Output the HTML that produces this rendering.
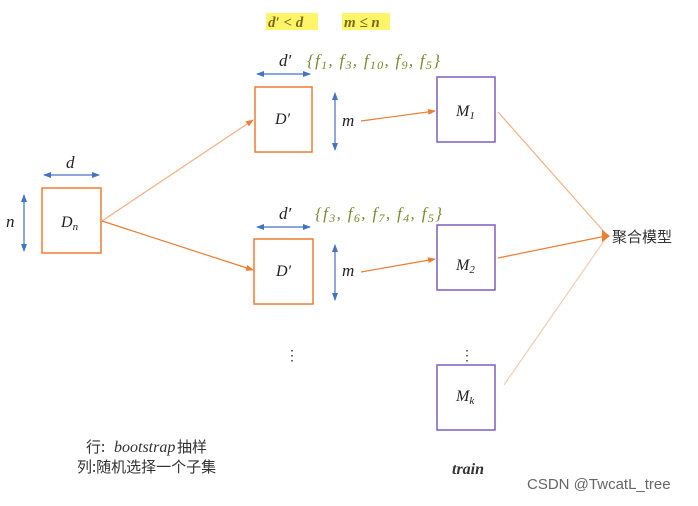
<!DOCTYPE html>
<html><head><meta charset="utf-8"><style>
html,body{margin:0;padding:0;background:#fff;}
svg text{font-family:"Liberation Serif","Noto Serif CJK SC",serif;}
</style></head><body>
<svg width="698" height="501" viewBox="0 0 698 501" xmlns="http://www.w3.org/2000/svg">
<defs>
<marker id="ao" markerWidth="8" markerHeight="8" refX="7" refY="4" orient="auto" markerUnits="userSpaceOnUse"><path d="M0,1 L8,4 L0,7 Z" fill="#ed7d31"/></marker>
<marker id="ab" markerWidth="8" markerHeight="8" refX="7" refY="4" orient="auto-start-reverse" markerUnits="userSpaceOnUse"><path d="M0,1 L8,4 L0,7 Z" fill="#4472c4"/></marker>
</defs>
<rect x="0" y="0" width="698" height="501" fill="#fff"/>
<rect x="266" y="13" width="52" height="17" fill="#fff34d" opacity="0.85"/>
<rect x="342" y="13" width="48" height="17" fill="#fff34d" opacity="0.85"/>
<text x="268" y="27" font-size="15" font-style="italic" font-weight="bold" fill="#7a6a20">d′ &lt; d</text>
<text x="344" y="27" font-size="15" font-style="italic" font-weight="bold" fill="#7a6a20">m ≤ n</text>
<rect x="42" y="188" width="59" height="65" fill="none" stroke="#ed7d31" stroke-width="1.5"/>
<text x="61" y="227" font-size="16" font-style="italic" fill="#222">D<tspan font-size="11" dy="3">n</tspan></text>
<line x1="44" y1="175" x2="99" y2="175" stroke="#4472c4" stroke-width="1.2" marker-start="url(#ab)" marker-end="url(#ab)"/>
<text x="66" y="168" font-size="17" font-style="italic" fill="#222">d</text>
<line x1="24" y1="195" x2="24" y2="251" stroke="#4472c4" stroke-width="1.2" marker-start="url(#ab)" marker-end="url(#ab)"/>
<text x="6" y="227" font-size="17" font-style="italic" fill="#222">n</text>
<line x1="102" y1="221" x2="253" y2="120" stroke="#f4b183" stroke-width="1.2" marker-end="url(#ao)"/>
<line x1="102" y1="221" x2="253" y2="270" stroke="#ed7d31" stroke-width="1.2" marker-end="url(#ao)"/>
<rect x="255" y="87" width="57" height="65" fill="none" stroke="#ed7d31" stroke-width="1.5"/>
<text x="275" y="124" font-size="16" font-style="italic" fill="#222">D′</text>
<line x1="257" y1="74" x2="310" y2="74" stroke="#4472c4" stroke-width="1.2" marker-start="url(#ab)" marker-end="url(#ab)"/>
<text x="279" y="66" font-size="17" font-style="italic" fill="#222">d′</text>
<text x="307" y="66" font-size="17" font-style="italic" fill="#7a8a30" textLength="133" lengthAdjust="spacing">{f<tspan font-size="12" dy="3">1</tspan><tspan dy="-3">, f</tspan><tspan font-size="12" dy="3">3</tspan><tspan dy="-3">, f</tspan><tspan font-size="12" dy="3">10</tspan><tspan dy="-3">, f</tspan><tspan font-size="12" dy="3">9</tspan><tspan dy="-3">, f</tspan><tspan font-size="12" dy="3">5</tspan><tspan dy="-3">}</tspan></text>
<line x1="335" y1="93" x2="335" y2="150" stroke="#4472c4" stroke-width="1.2" marker-start="url(#ab)" marker-end="url(#ab)"/>
<text x="342" y="126" font-size="17" font-style="italic" fill="#222">m</text>
<line x1="361" y1="121" x2="435" y2="111" stroke="#ed7d31" stroke-width="1.2" marker-end="url(#ao)"/>
<rect x="254" y="239" width="59" height="65" fill="none" stroke="#ed7d31" stroke-width="1.5"/>
<text x="276" y="276" font-size="16" font-style="italic" fill="#222">D′</text>
<line x1="257" y1="227" x2="310" y2="227" stroke="#4472c4" stroke-width="1.2" marker-start="url(#ab)" marker-end="url(#ab)"/>
<text x="279" y="219" font-size="17" font-style="italic" fill="#222">d′</text>
<text x="315" y="219" font-size="17" font-style="italic" fill="#7a8a30" textLength="127" lengthAdjust="spacing">{f<tspan font-size="12" dy="3">3</tspan><tspan dy="-3">, f</tspan><tspan font-size="12" dy="3">6</tspan><tspan dy="-3">, f</tspan><tspan font-size="12" dy="3">7</tspan><tspan dy="-3">, f</tspan><tspan font-size="12" dy="3">4</tspan><tspan dy="-3">, f</tspan><tspan font-size="12" dy="3">5</tspan><tspan dy="-3">}</tspan></text>
<line x1="335" y1="245" x2="335" y2="300" stroke="#4472c4" stroke-width="1.2" marker-start="url(#ab)" marker-end="url(#ab)"/>
<text x="342" y="276" font-size="17" font-style="italic" fill="#222">m</text>
<line x1="361" y1="272" x2="435" y2="259" stroke="#ed7d31" stroke-width="1.2" marker-end="url(#ao)"/>
<text x="285" y="360" font-size="14" fill="#333">⋮</text>
<rect x="437" y="77" width="58" height="65" fill="none" stroke="#7f5fbf" stroke-width="1.5"/>
<text x="456" y="116" font-size="16" font-style="italic" fill="#222">M<tspan font-size="11" dy="3">1</tspan></text>
<rect x="437" y="225" width="58" height="65" fill="none" stroke="#7f5fbf" stroke-width="1.5"/>
<text x="456" y="270" font-size="16" font-style="italic" fill="#222">M<tspan font-size="11" dy="3">2</tspan></text>
<text x="460" y="360" font-size="14" fill="#333">⋮</text>
<rect x="437" y="365" width="58" height="65" fill="none" stroke="#7f5fbf" stroke-width="1.5"/>
<text x="456" y="401" font-size="16" font-style="italic" fill="#222">M<tspan font-size="11" dy="3">k</tspan></text>
<line x1="498" y1="112" x2="606" y2="234" stroke="#f4b183" stroke-width="1.2"/>
<line x1="498" y1="258" x2="606" y2="236" stroke="#ed7d31" stroke-width="1.2"/>
<line x1="504" y1="385" x2="606" y2="238" stroke="#f8cbad" stroke-width="1.2"/>
<path d="M602,230 L610,236 L602,242 Z" fill="#ed7d31"/>
<text x="612" y="242" font-size="15" fill="#333" style='font-family:"Noto Sans CJK SC",sans-serif'>聚合模型</text>
<text x="86" y="452" font-size="15" fill="#333" style='font-family:"Noto Sans CJK SC",sans-serif'>行:</text>
<text x="114" y="452" font-size="16" font-style="italic" fill="#333">bootstrap</text>
<text x="177" y="452" font-size="15" fill="#333" style='font-family:"Noto Sans CJK SC",sans-serif'>抽样</text>
<text x="77" y="472" font-size="15" fill="#333" style='font-family:"Noto Sans CJK SC",sans-serif'>列:随机选择一个子集</text>
<text x="452" y="474" font-size="16" font-style="italic" font-weight="bold" fill="#333">train</text>
<text x="527" y="489" font-size="15" fill="#666" style='font-family:"Liberation Sans",sans-serif'>CSDN @TwcatL_tree</text>
</svg>
</body></html>
